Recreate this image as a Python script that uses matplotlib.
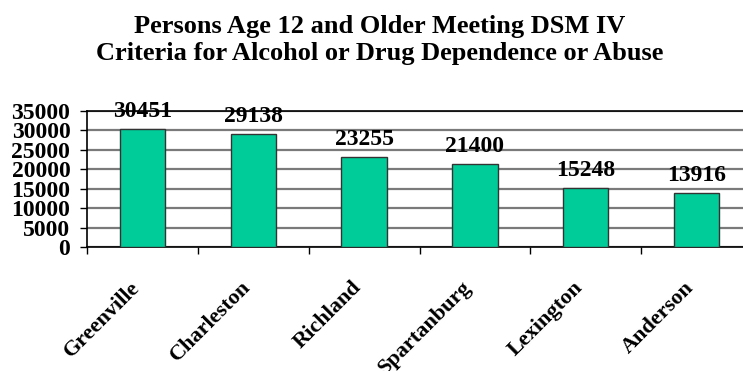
import matplotlib.pyplot as plt
import matplotlib.transforms as mtransforms
import numpy as np

counties = ["Greenville", "Charleston", "Richland", "Spartanburg", "Lexington", "Anderson"]
persons = [30451, 29138, 23255, 21400, 15248, 13916]
y_ticks = [0, 5000, 10000, 15000, 20000, 25000, 30000, 35000]

plt.rcParams["font.family"] = ["Liberation Serif", "DejaVu Serif"]
plt.rcParams["font.weight"] = "bold"

fig = plt.figure(figsize=(7.43, 3.71), dpi=100)
# plot area runs a little past the right edge of the figure
ax = fig.add_axes([87 / 743, 1 - 247 / 371, 665 / 743, 136 / 371])

x = np.arange(len(counties))
ax.bar(x, persons, width=0.41, color="#00CC99", edgecolor="#333333", linewidth=1, zorder=3)

for xi, v in zip(x, persons):
    ax.annotate(str(v), (xi, v), xytext=(0, 8.5), textcoords="offset points",
                ha="center", va="baseline", fontsize=17, fontweight="bold", zorder=5)

ax.set_xlim(-0.5, len(counties) - 0.5)
ax.set_ylim(0, 35000)
ax.set_yticks(y_ticks)
ax.set_yticklabels([str(t) for t in y_ticks], fontsize=17, fontweight="bold")
ax.tick_params(axis="y", length=5, width=1, pad=7)
ax.yaxis.grid(True, color="#7a7a7a", linewidth=1.6, zorder=0)

ax.set_xticks(x)
ax.set_xticklabels(counties, rotation=45, ha="right", va="center",
                   rotation_mode="anchor", fontsize=16, fontweight="bold")
ax.tick_params(axis="x", which="major", length=0, pad=27)
shift = mtransforms.ScaledTranslation(-6 / 100, 0, fig.dpi_scale_trans)
for lbl in ax.get_xticklabels():
    lbl.set_transform(lbl.get_transform() + shift)
ax.set_xticks(np.arange(len(counties)) - 0.5, minor=True)
ax.tick_params(axis="x", which="minor", length=5, width=1)

ax.spines["right"].set_visible(False)
ax.spines["top"].set_linewidth(1.2)
ax.spines["left"].set_linewidth(1.2)
ax.spines["bottom"].set_linewidth(1.2)

fig.text(0.511, 0.892, "Persons Age 12 and Older Meeting DSM IV\nCriteria for Alcohol or Drug Dependence or Abuse",
         ha="center", va="center", fontsize=19, fontweight="bold", linespacing=1.25)

fig.savefig("out.png", dpi=100)
